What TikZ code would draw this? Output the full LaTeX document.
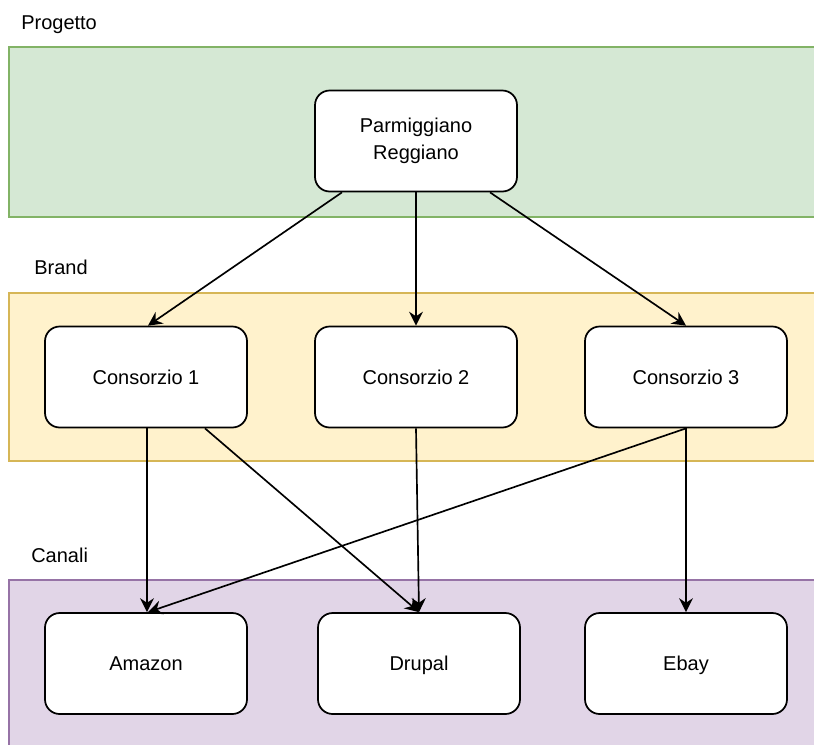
\documentclass[tikz,border=0pt]{standalone}
\usepackage{fontspec}
\setmainfont{Liberation Sans}
\usetikzlibrary{arrows.meta,calc}
\definecolor{gfill}{HTML}{D5E8D4}
\definecolor{gline}{HTML}{82B366}
\definecolor{yfill}{HTML}{FFF2CC}
\definecolor{yline}{HTML}{D6B656}
\definecolor{pfill}{HTML}{E1D5E7}
\definecolor{pline}{HTML}{9673A6}
\begin{document}
\begin{tikzpicture}[x=0.75pt,y=-0.75pt,
  band/.style={line width=1.3pt},
  box/.style={draw=black, fill=white, rounded corners=11pt, line width=1.3pt,
    minimum width=151.5pt, minimum height=75.75pt, inner sep=0pt,
    font=\fontsize{15}{20}\selectfont},
  onebox/.style={box, text height=10.7pt, text depth=0pt},
  lab/.style={anchor=base west, inner sep=0pt, font=\fontsize{15}{18}\selectfont},
  arr/.style={-{Stealth[length=10.5pt,width=10.5pt,inset=3.5pt]}, line width=1.25pt}]
\useasboundingbox (0,0) rectangle (814,744);
\clip (0,0) rectangle (814,744);
\fill[white] (0,0) rectangle (814,744);
% bands
\draw[band, draw=gline, fill=gfill] (9,47) rectangle (830,217);
\draw[band, draw=yline, fill=yfill] (9,293) rectangle (830,461);
\draw[band, draw=pline, fill=pfill] (9,580) rectangle (830,770);
% labels
\node[lab] (lp) at (21,29) {Progetto};
\node[lab] (lb) at (34,274) {Brand};
\node[lab] (lc) at (31,562) {Canali};
% boxes
\node[box, align=center] (P) at (416,141) {Parmiggiano\\Reggiano};
\node[onebox] (C1) at (146,377) {Consorzio 1};
\node[onebox] (C2) at (416,377) {Consorzio 2};
\node[onebox] (C3) at (686,377) {Consorzio 3};
\node[onebox] (A) at (146,663.5) {Amazon};
\node[onebox] (D) at (419,663.5) {Drupal};
\node[onebox] (E) at (686,663.5) {Ebay};
% connectors
\draw[arr] ([xshift=-55.5pt]P.south) -- ([xshift=1.5pt]C1.north);
\draw[arr] (P.south) -- (C2.north);
\draw[arr] ([xshift=55.5pt]P.south) -- (C3.north);
\draw[arr] ([xshift=0.75pt]C1.south) -- ([xshift=0.75pt]A.north);
\draw[arr] ([xshift=44.25pt]C1.south) -- (D.north);
\draw[arr] (C2.south) -- (D.north);
\draw[arr] (C3.south) -- ([xshift=1.5pt]A.north);
\draw[arr] (C3.south) -- (E.north);
\end{tikzpicture}
\end{document}
